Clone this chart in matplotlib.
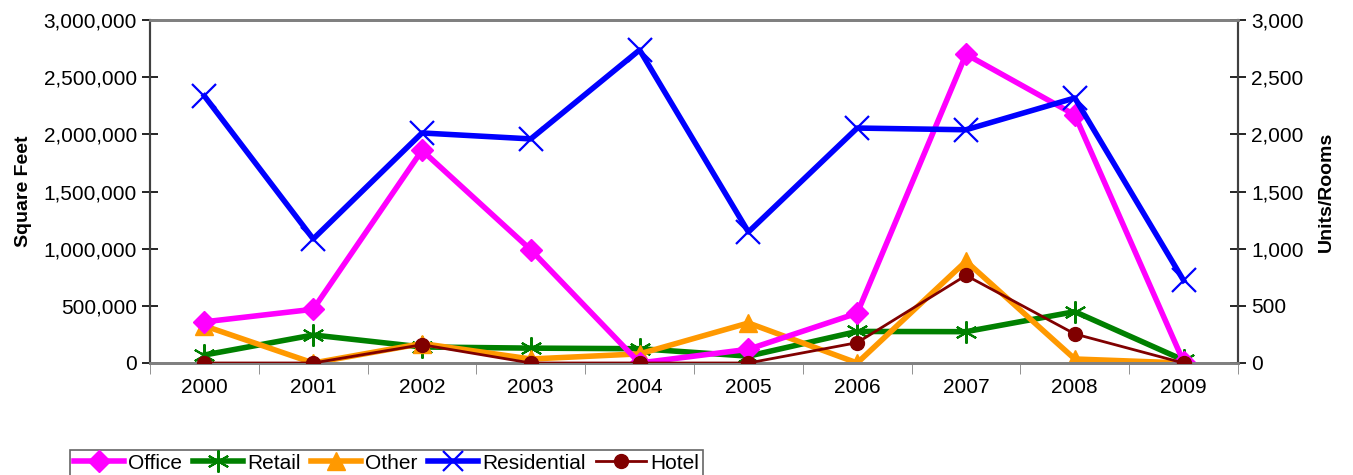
import matplotlib
matplotlib.use("Agg")
import matplotlib.pyplot as plt
from matplotlib.ticker import FuncFormatter, FixedLocator
from matplotlib.lines import Line2D

plt.rcParams['font.family'] = ['Liberation Sans', 'DejaVu Sans']

years = ['2000', '2001', '2002', '2003', '2004', '2005', '2006', '2007', '2008', '2009']
office = [360000, 470000, 1860000, 990000, 0, 120000, 436000, 2700000, 2170000, 10000]
retail = [70000, 245000, 140000, 130000, 125000, 60000, 276000, 274000, 449000, 25000]
other = [325000, 0, 170000, 35000, 80000, 350000, 0, 890000, 35000, 0]
residential = [2335, 1085, 2012, 1960, 2738, 1146, 2055, 2040, 2318, 722]
hotel = [0, 0, 160, 0, 0, 0, 178, 766, 254, 0]

x = list(range(len(years)))

fig = plt.figure(figsize=(13.53, 4.75), dpi=100)
ax = fig.add_axes([150/1353, 112/475, 1088/1353, 343/475])
ax2 = ax.twinx()

c_office = '#FF00FF'
c_retail = '#008000'
c_other = '#FF9900'
c_res = '#0000FF'
c_hotel = '#800000'

ax.plot(x, office, color=c_office, lw=4, marker='D', ms=11, zorder=3)
ax.plot(x, retail, color=c_retail, lw=4, marker=(6, 2, 0), ms=16, mew=1.5, zorder=2)
ax.plot(x, other, color=c_other, lw=4, marker='^', ms=13, zorder=2)
ax2.plot(x, residential, color=c_res, lw=4, marker='x', ms=17, mew=1.6, zorder=3)
ax2.plot(x, hotel, color=c_hotel, lw=2, marker='o', ms=10, zorder=3)

ax.set_xlim(-0.5, 9.5)
ax.set_ylim(0, 3000000)
ax2.set_ylim(0, 3000)

ax.set_yticks([0, 500000, 1000000, 1500000, 2000000, 2500000, 3000000])
ax2.set_yticks([0, 500, 1000, 1500, 2000, 2500, 3000])
fmt = FuncFormatter(lambda v, p: f"{int(v):,}")
ax.yaxis.set_major_formatter(fmt)
ax2.yaxis.set_major_formatter(fmt)

ax.set_xticks(x)
ax.set_xticklabels(years)
ax.tick_params(axis='x', which='major', length=0, labelsize=15, pad=11)
ax.xaxis.set_minor_locator(FixedLocator([i - 0.5 for i in range(11)]))
ax.tick_params(axis='x', which='minor', length=8, direction='out', color='#808080')

ax.tick_params(axis='y', direction='inout', length=12, labelsize=15, width=1.2)
ax2.tick_params(axis='y', direction='inout', length=12, labelsize=15, width=1.2)

for a in (ax, ax2):
    a.spines['top'].set_color('#808080')
    a.spines['top'].set_linewidth(2)
    a.spines['bottom'].set_color('#808080')
    a.spines['bottom'].set_linewidth(2)
    a.spines['left'].set_color('#404040')
    a.spines['left'].set_linewidth(1.5)
    a.spines['right'].set_color('#404040')
    a.spines['right'].set_linewidth(1.5)

ax.set_ylabel('Square Feet', fontsize=14, fontweight='bold', labelpad=8)
ax2.set_ylabel('Units/Rooms', fontsize=14, fontweight='bold', labelpad=10)

handles = [
    Line2D([], [], color=c_office, lw=4, marker='D', ms=11),
    Line2D([], [], color=c_retail, lw=4, marker=(6, 2, 0), ms=16, mew=1.5),
    Line2D([], [], color=c_other, lw=4, marker='^', ms=13),
    Line2D([], [], color=c_res, lw=4, marker='x', ms=14, mew=1.6),
    Line2D([], [], color=c_hotel, lw=2, marker='o', ms=10),
]
labels = ['Office', 'Retail', 'Other', 'Residential', 'Hotel']
leg = fig.legend(handles, labels, loc='lower left', bbox_to_anchor=(70/1353, -0.004),
                 ncol=5, fontsize=15, frameon=True, fancybox=False, edgecolor='#404040',
                 handlelength=2.4, handletextpad=0.2, columnspacing=0.5,
                 borderpad=0.2, borderaxespad=0)
leg.get_frame().set_linewidth(1.2)

fig.savefig('out.png', dpi=100)
